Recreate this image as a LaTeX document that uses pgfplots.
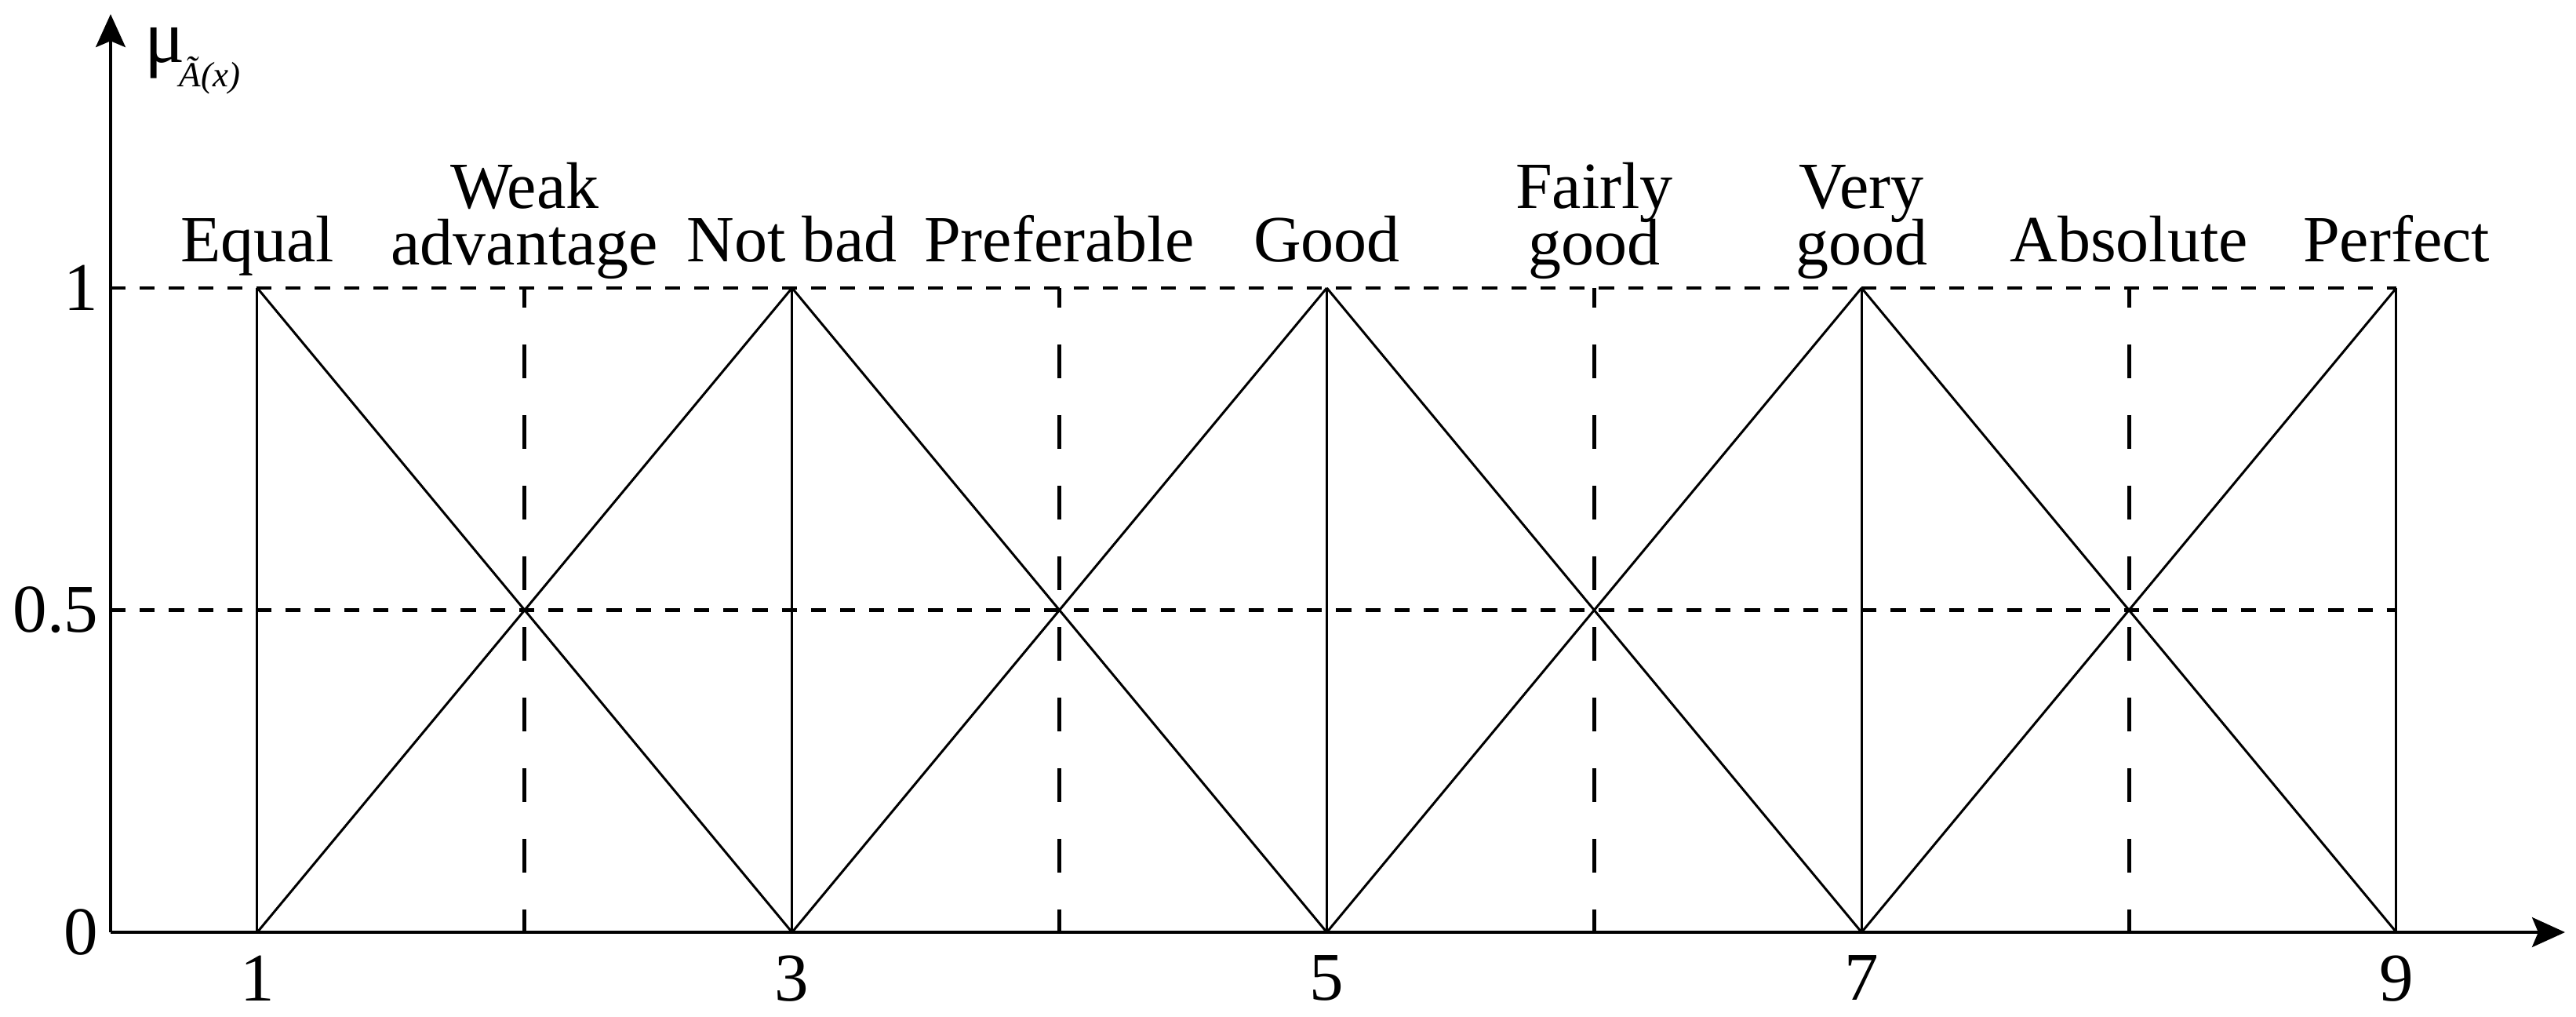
\documentclass[border=0pt]{standalone}
\usepackage{fontspec}
\setmainfont{Liberation Serif}
\usepackage{pgfplots}
\pgfplotsset{compat=1.18}
\usetikzlibrary{arrows.meta}

\begin{document}
\begin{tikzpicture}[
    dashline/.style={black, line width=0.8pt, dash pattern=on 3.2pt off 3pt},
    vdash/.style={black, line width=0.8pt, dash pattern=on 7.2pt off 7.8pt, dash phase=3pt},
    tri/.style={black, line width=0.5pt},
    lab/.style={anchor=base, inner sep=0pt, font=\fontsize{14}{14}\selectfont},
]
\begin{axis}[
    x=56.81pt, y=136.83pt,
    xmin=0.4515, xmax=9.631,
    ymin=0, ymax=1.425,
    axis lines=left,
    axis line style={line width=0.7pt, -{Stealth[length=7pt, width=6.3pt, inset=1.3pt]}},
    clip=false,
    xtick={1,3,5,7,9},
    ytick={0,0.5,1},
    major tick length=0pt,
    tick style={draw=none},
    /pgf/number format/assume math mode=true,
    tick label style={font=\fontsize{14.5}{14.5}\selectfont, inner sep=0pt},
    xticklabel style={anchor=north, yshift=-4.8pt},
    yticklabel style={anchor=east, xshift=-2.4pt},
]
% horizontal reference lines
\addplot[dashline] coordinates {(0.4515,1) (9,1)};
\addplot[dashline] coordinates {(0.4515,0.5) (9,0.5)};

% dashed verticals at even points
\addplot[vdash] coordinates {(2,1) (2,0)};
\addplot[vdash] coordinates {(4,1) (4,0)};
\addplot[vdash] coordinates {(6,1) (6,0)};
\addplot[vdash] coordinates {(8,1) (8,0)};

% solid verticals
\addplot[tri] coordinates {(1,0) (1,1)};
\addplot[tri] coordinates {(3,0) (3,1)};
\addplot[tri] coordinates {(5,0) (5,1)};
\addplot[tri] coordinates {(7,0) (7,1)};
\addplot[tri] coordinates {(9,0) (9,1)};

% diagonals
\addplot[tri] coordinates {(1,1) (3,0)};
\addplot[tri] coordinates {(1,0) (3,1)};
\addplot[tri] coordinates {(3,1) (5,0)};
\addplot[tri] coordinates {(3,0) (5,1)};
\addplot[tri] coordinates {(5,1) (7,0)};
\addplot[tri] coordinates {(5,0) (7,1)};
\addplot[tri] coordinates {(7,1) (9,0)};
\addplot[tri] coordinates {(7,0) (9,1)};

% linguistic terms
\node[lab] at (axis cs:1,1) [yshift=5.6pt] {Equal};
\node[lab] at (axis cs:2,1) [yshift=16.9pt] {Weak};
\node[lab] at (axis cs:2,1) [yshift=4.9pt] {advantage};
\node[lab] at (axis cs:3,1) [yshift=5.6pt] {Not bad};
\node[lab] at (axis cs:4,1) [yshift=5.6pt] {Preferable};
\node[lab] at (axis cs:5,1) [yshift=5.6pt] {Good};
\node[lab] at (axis cs:6,1) [yshift=16.9pt] {Fairly};
\node[lab] at (axis cs:6,1) [yshift=4.9pt] {good};
\node[lab] at (axis cs:7,1) [yshift=16.9pt] {Very};
\node[lab] at (axis cs:7,1) [yshift=4.9pt] {good};
\node[lab] at (axis cs:8,1) [yshift=5.6pt] {Absolute};
\node[lab] at (axis cs:9,1) [yshift=5.6pt] {Perfect};

% y axis label
\node[anchor=base west, inner sep=0pt, font=\fontsize{16}{16}\selectfont] at (axis cs:0.575,1.35) {μ};
\node[anchor=base west, inner sep=0pt, font=\fontsize{7.5}{7.5}\selectfont\itshape] at (axis cs:0.705,1.313) {Ã(x)};

\coordinate (bl) at (axis cs:0.0378,-0.1315);
\coordinate (tr) at (axis cs:9.672,1.447);
\end{axis}
\pgfresetboundingbox
\path[use as bounding box] (bl) rectangle (tr);
\end{tikzpicture}
\end{document}
